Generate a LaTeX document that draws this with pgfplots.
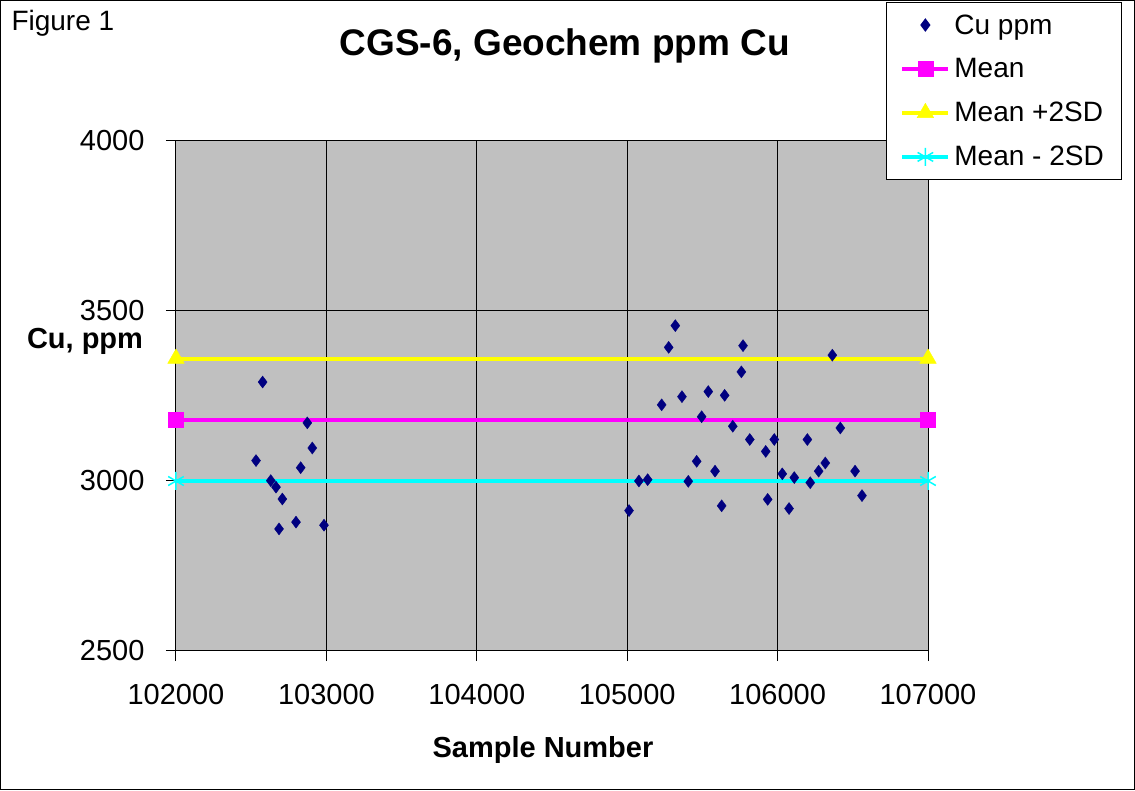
\documentclass[border=0pt]{standalone}
\usepackage{pgfplots}
\pgfplotsset{compat=1.18}
\usepackage{fontspec}
\setmainfont{Liberation Sans}
\definecolor{plotgray}{HTML}{C0C0C0}
\definecolor{navyc}{HTML}{000080}
\definecolor{magc}{HTML}{FF00FF}
\definecolor{yelc}{HTML}{FFFF00}
\definecolor{cyac}{HTML}{00FFFF}
\begin{document}
\begin{tikzpicture}[x=1pt,y=1pt]
\draw[line width=1pt] (0.5,0.5) rectangle (1134.5,789.5);
\node[anchor=west,font=\fontsize{28}{32}\selectfont] at (8,767) {Figure 1};
\begin{axis}[
  at={(176pt,139pt)}, anchor=south west,
  scale only axis, width=752pt, height=510pt,
  xmin=102000, xmax=107000, ymin=2500, ymax=4000,
  xtick={102000,103000,...,107000}, ytick={2500,3000,3500,4000},
  scaled x ticks=false, scaled y ticks=false,
  /pgf/number format/assume math mode=true,
  xticklabel style={/pgf/number format/fixed,/pgf/number format/1000 sep={}},
  yticklabel style={/pgf/number format/fixed,/pgf/number format/1000 sep={}},
  tick label style={font=\fontsize{29}{34}\selectfont},
  xticklabel style={yshift=-20pt},
  yticklabel style={xshift=-18pt},
  tick align=outside, tick pos=left, major tick length=10pt,
  tick style={black, line width=1pt},
  axis line style={black, line width=1pt},
  grid=major, major grid style={black, line width=1pt},
  axis background/.style={fill=plotgray},
  title={\bfseries CGS-6, Geochem ppm Cu},
  title style={font=\fontsize{37}{42}\selectfont, at={(rel axis cs:0.517,1.1745)}, anchor=center},
  xlabel={\bfseries Sample Number},
  xlabel style={font=\fontsize{29}{34}\selectfont, at={(rel axis cs:0.488,-0.194)}, anchor=center},
  ylabel={\bfseries Cu, ppm},
  ylabel style={font=\fontsize{29}{34}\selectfont, rotate=-90, at={(rel axis cs:-0.121,0.608)}, anchor=center},
  legend style={at={(rel axis cs:0.944,1.2725)}, anchor=north west, draw=black, line width=1pt, fill=white,
    font=\fontsize{28}{33}\selectfont, inner xsep=14pt, inner ysep=10pt, row sep=19pt,
    nodes={inner xsep=4pt},
    /tikz/every even column/.append style={column sep=0pt}},
  legend cell align=left,
  legend image code/.code={\draw[mark repeat=2,mark phase=2,#1] plot coordinates {(0pt,0pt)(23pt,0pt)(46pt,0pt)};},
  clip=false,
]
\addplot[only marks, mark=diamond*, mark size=6pt, color=navyc, mark options={fill=navyc, draw=navyc}] coordinates {
(102576,3291) (102873,3171) (102906,3097) (102532,3060) (102829,3039)
(102630,3001) (102665,2982) (102707,2947) (102798,2879) (102685,2859) (102984,2870)
(105320,3457) (105276,3393) (105770,3398) (105759,3321) (105539,3263)
(105364,3248) (105648,3252) (105229,3224) (105495,3189) (105702,3161)
(105815,3122) (105921,3087) (105462,3058) (105584,3029) (105078,3000)
(105136,3004) (105406,2999) (105934,2946) (105628,2927) (105012,2913)
(106364,3370) (106417,3156) (105978,3122) (106198,3122) (106317,3053)
(106273,3029) (106515,3029) (106031,3021) (106111,3010) (106217,2995)
(106076,2919) (106561,2957)
};
\addlegendentry{Cu ppm}
\addplot[magc, line width=4pt, mark=square*, mark size=7.5pt, mark options={fill=magc, draw=magc, line width=0.5pt}] coordinates {(102000,3180) (107000,3180)};
\addlegendentry{Mean}
\addplot[yelc, line width=4pt, mark=triangle*, mark size=9.5pt, mark options={fill=yelc, draw=yelc, line width=0.5pt}] coordinates {(102000,3360) (107000,3360)};
\addlegendentry{Mean +2SD}
\addplot[cyac, line width=4pt, mark=asterisk, mark size=9pt, mark options={draw=cyac, line width=1.5pt}] coordinates {(102000,3000) (107000,3000)};
\addlegendentry{Mean - 2SD}
\end{axis}
\end{tikzpicture}
\end{document}
